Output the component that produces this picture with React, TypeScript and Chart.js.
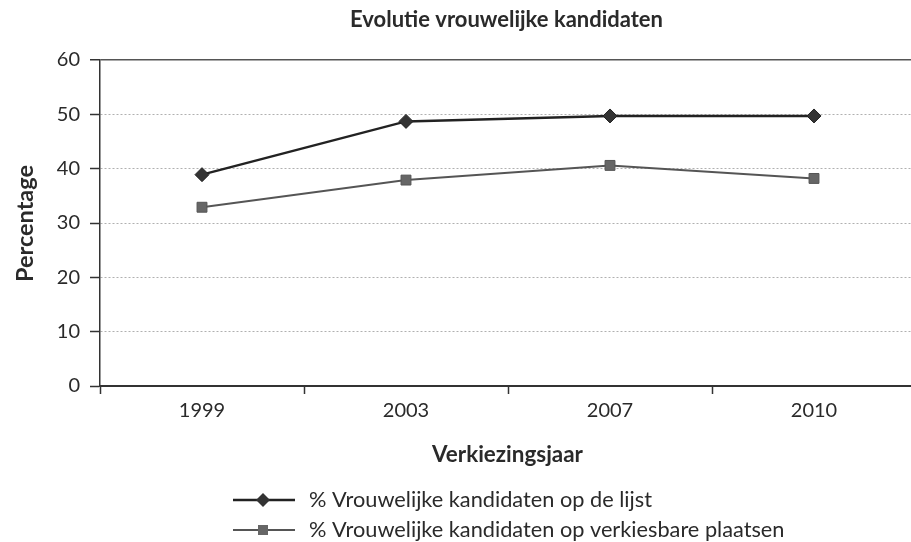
import React, { useEffect, useRef } from "react";
import { Chart, registerables } from "chart.js";

Chart.register(...registerables);

const categories = ["1999", "2003", "2007", "2010"];
const seriesLijst = [38.9, 48.7, 49.7, 49.7];
const seriesVerkiesbaar = [32.9, 37.9, 40.6, 38.2];
const seriesNames = [
  "% Vrouwelijke kandidaten op de lijst",
  "% Vrouwelijke kandidaten op verkiesbare plaatsen",
];
const chartTitle = "Evolutie vrouwelijke kandidaten";
const xTitle = "Verkiezingsjaar";
const yTitle = "Percentage";

const FONT = "Lato, 'Open Sans', sans-serif";

// set a font whose rendered width matches the target width
function fitFont(ctx: CanvasRenderingContext2D, text: string, weight: string, target: number) {
  ctx.font = `${weight} 20px ${FONT}`;
  const w = ctx.measureText(text).width;
  const size = (20 * target) / w;
  ctx.font = `${weight} ${size.toFixed(2)}px ${FONT}`;
}

const textPlugin = {
  id: "textPlugin",
  afterDraw(chart: any) {
    const ctx = chart.ctx as CanvasRenderingContext2D;
    const area = chart.chartArea;
    ctx.save();
    ctx.fillStyle = "#2a2a2a";
    ctx.textBaseline = "middle";
    ctx.textAlign = "center";
    fitFont(ctx, chartTitle, "bold", 313);
    ctx.fillText(chartTitle, 506.5, 20);
    fitFont(ctx, xTitle, "bold", 151);
    ctx.fillText(xTitle, 507.5, 455);
    ctx.save();
    ctx.translate(25, 223.5);
    ctx.rotate(-Math.PI / 2);
    fitFont(ctx, yTitle, "bold", 117);
    ctx.fillText(yTitle, 0, 0);
    ctx.restore();

    // legend
    const rows = [500, 530];
    ctx.textAlign = "left";
    fitFont(ctx, seriesNames[0], "normal", 343);
    const legendFont = ctx.font;
    chart.data.datasets.forEach((ds: any, i: number) => {
      const y = rows[i];
      ctx.strokeStyle = ds.borderColor;
      ctx.lineWidth = ds.borderWidth;
      ctx.beginPath();
      ctx.moveTo(233, y);
      ctx.lineTo(295, y);
      ctx.stroke();
      ctx.fillStyle = ds.pointBackgroundColor;
      ctx.beginPath();
      if (ds.pointStyle === "rectRot") {
        const r = 7;
        ctx.moveTo(263, y - r);
        ctx.lineTo(263 + r, y);
        ctx.lineTo(263, y + r);
        ctx.lineTo(263 - r, y);
        ctx.closePath();
      } else {
        ctx.rect(263 - 5, y - 5, 10, 10);
      }
      ctx.fill();
      ctx.fillStyle = "#2a2a2a";
      ctx.font = legendFont;
      ctx.fillText(ds.label, 309, y);
    });
    ctx.restore();
  },
};

export default function App() {
  const ref = useRef<HTMLCanvasElement | null>(null);
  useEffect(() => {
    if (!ref.current) return;
    const chart = new Chart(ref.current, {
      type: "line",
      data: {
        labels: categories,
        datasets: [
          {
            label: seriesNames[0],
            data: seriesLijst,
            borderColor: "#222222",
            borderWidth: 2.5,
            pointStyle: "rectRot",
            pointRadius: 7,
            pointBackgroundColor: "#333333",
            pointBorderColor: "#222222",
            pointBorderWidth: 1,
          },
          {
            label: seriesNames[1],
            data: seriesVerkiesbaar,
            borderColor: "#555555",
            borderWidth: 2,
            pointStyle: "rect",
            pointRadius: 7,
            pointBackgroundColor: "#666666",
            pointBorderColor: "#555555",
            pointBorderWidth: 1,
          },
        ],
      } as any,
      options: {
        animation: false,
        responsive: false,
        devicePixelRatio: 1,
        layout: { padding: { left: 0, top: 60, right: 14, bottom: 0 } },
        plugins: {
          legend: { display: false },
          title: { display: false },
          tooltip: { enabled: false },
        },
        scales: {
          x: {
            type: "category",
            offset: true,
            afterFit: (s: any) => {
              s.height = 156;
            },
            grid: {
              offset: true,
              drawOnChartArea: false,
              drawTicks: true,
              tickLength: 8,
              tickColor: "#333333",
              tickWidth: 1.5,
            },
            border: { display: true, color: "#333333", width: 2 },
            ticks: {
              color: "#2a2a2a",
              font: { family: FONT, size: 20 },
              padding: 5,
            },
          },
          y: {
            min: 0,
            max: 60,
            afterFit: (s: any) => {
              s.width = 100;
            },
            ticks: {
              stepSize: 10,
              color: "#2a2a2a",
              font: { family: FONT, size: 20 },
              padding: 10,
            },
            grid: {
              color: (c: any) => (c.tick && c.tick.value === 60 ? "#555555" : "#b0b0b0"),
              lineWidth: (c: any) => (c.tick && c.tick.value === 60 ? 1.5 : 1),
              tickLength: 10,
              tickColor: "#333333",
              tickWidth: 1.5,
            },
            border: {
              display: true,
              color: "#333333",
              width: 1.5,
              dash: (c: any) => (c.tick && c.tick.value === 60 ? [] : [2, 2]),
            },
          },
        },
      } as any,
      plugins: [textPlugin],
    });
    return () => chart.destroy();
  }, []);
  return (
    <div
      style={{
        position: "fixed",
        left: 0,
        top: 0,
        width: 911,
        height: 542,
        overflow: "hidden",
        background: "#fff",
      }}
    >
      <canvas ref={ref} width={930} height={542} style={{ display: "block" }} />
    </div>
  );
}
